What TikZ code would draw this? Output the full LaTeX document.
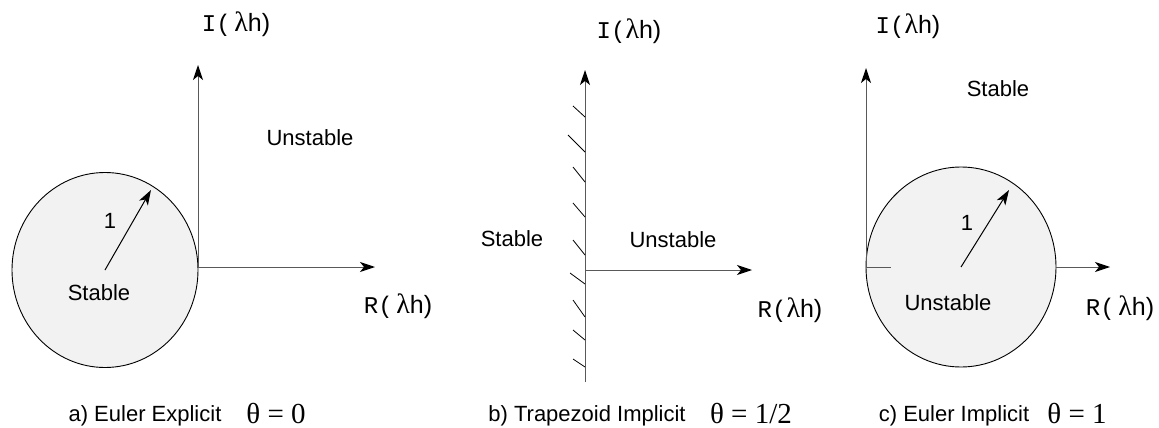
\documentclass[tikz,border=0pt]{standalone}
\usepackage{fontspec}
\setmainfont{Liberation Sans}
\newfontfamily\monof{Liberation Mono}
\newfontfamily\seriff{Liberation Serif}
\usetikzlibrary{arrows.meta,shapes.geometric}
\newcommand\axl[2]{{\fontsize{24}{26}\selectfont\monof #1(}#2{\fontsize{28}{30}\seriff λ}{\fontsize{25}{27}\selectfont h)}}
\begin{document}
\begin{tikzpicture}[x=1pt,y=-1pt,
  txt/.style={font=\fontsize{22}{24}\selectfont, inner sep=0pt, anchor=base},
  th/.style={font=\fontsize{29}{31}\selectfont\seriff, inner sep=0pt, anchor=base},
  axis/.style={draw=black!65, line width=1pt, -{Stealth[length=15pt,width=10pt,inset=4pt,color=black]}},
  rad/.style={draw=black, line width=1pt, -{Stealth[length=15pt,width=10pt,inset=4pt]}},
  disk/.style={ellipse, draw=black, line width=0.9pt, fill=black!5, inner sep=0pt},
  hatch/.style={draw=black, line width=0.8pt}]
\useasboundingbox (0,0) rectangle (1159,428);
% ---------- panel a ----------
\node[disk, minimum width=186pt, minimum height=195pt] (acirc) at (105,270) {};
\coordinate (aO) at (198,267);
\coordinate (aY) at (198,65);
\coordinate (aX) at (375,267);
\coordinate (aR) at (151,190);
\draw[axis] (aO) -- (aY);
\draw[axis] (aO) -- (aX);
\draw[rad] (acirc.center) -- (aR);
\node[txt] (a1) at (110,228) {1};
\node[txt] (astab) at (99,300) {Stable};
\node[txt] (aun) at (310,145) {Unstable};
\node[txt] (aI) at (236,32) {\axl{I}{\,}};
\node[txt] (aRl) at (398,313) {\axl{R}{\,}};
\node[txt] (acap) at (145,421) {a) Euler Explicit};
\node[th] (ath) at (276,423) {θ = 0};
% ---------- panel b ----------
\coordinate (bB) at (585,382);
\coordinate (bO) at (585,270);
\coordinate (bY) at (585,70);
\coordinate (bX) at (752,270);
\draw[axis] (bB) -- (bY);
\draw[axis] (bO) -- (bX);
\foreach \ya/\yb/\xa in {106/117/573,135/152/568,167/182/573,203/217/573,240/255/573,273/284/570,300/317/573,330/340/573,359/367/573}
  \draw[hatch] (\xa,\ya) -- (585,\yb);
\node[txt] (bstab) at (512,246) {Stable};
\node[txt] (bun) at (673,247) {Unstable};
\node[txt] (bI) at (629,39) {\axl{I}{}};
\node[txt] (bRl) at (790,317) {\axl{R}{}};
\node[txt] (bcap) at (587,421) {b) Trapezoid Implicit};
\node[th] (bth) at (751,423) {θ = 1/2};
% ---------- panel c ----------
\node[disk, minimum width=190pt, minimum height=200pt] (ccirc) at (961,267) {};
\coordinate (cO) at (866,267);
\coordinate (cY) at (866,68);
\coordinate (cT) at (891,267);
\coordinate (cX) at (1110,267);
\coordinate (cR) at (1009,190);
\draw[axis] (cO) -- (cY);
\draw[draw=black!65, line width=1pt] (cO) -- (cT);
\draw[axis] (ccirc.east) -- (cX);
\draw[rad] (ccirc.center) -- (cR);
\node[txt] (c1) at (967,230) {1};
\node[txt] (cstab) at (998,96) {Stable};
\node[txt] (cun) at (948,310) {Unstable};
\node[txt] (cI) at (908,34) {\axl{I}{}};
\node[txt] (cRl) at (1120,315) {\axl{R}{\,}};
\node[txt] (ccap) at (954,421) {c) Euler Implicit};
\node[th] (cth) at (1077,423) {θ = 1};
\end{tikzpicture}
\end{document}
